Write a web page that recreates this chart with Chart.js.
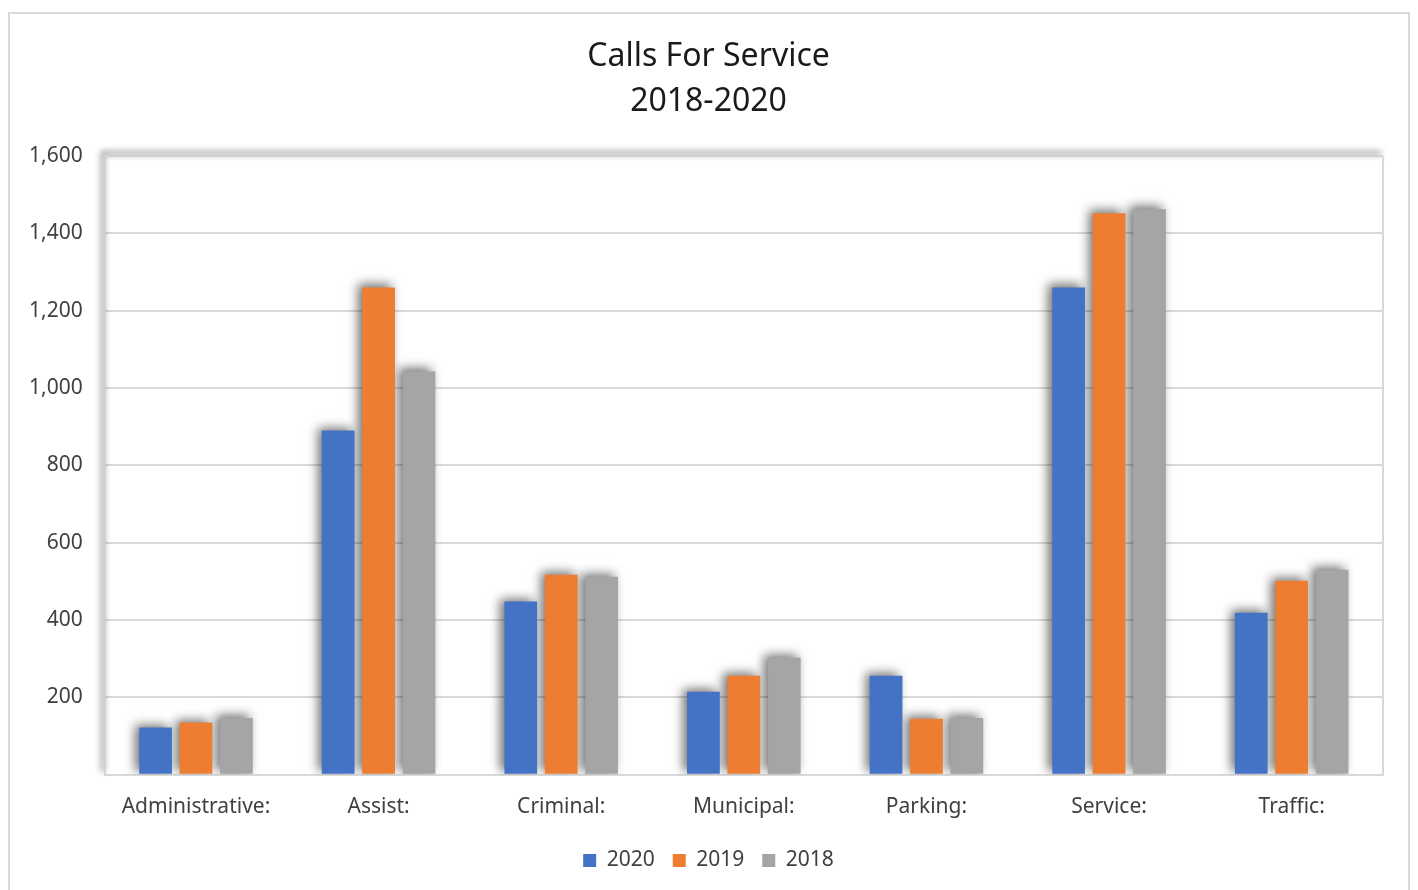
<!DOCTYPE html>
<html>
<head>
<meta charset="utf-8">
<script src="https://cdn.jsdelivr.net/npm/chart.js@4"></script>
<style>
  html, body { margin: 0; padding: 0; background: #fff; }
  #frame { position: absolute; left: 8px; top: 12px; width: 1402px; height: 880px; border: 2px solid #d9d9d9; box-sizing: border-box; }
  #wrap { position: absolute; left: 0; top: 0; width: 1418px; height: 890px; }
</style>
</head>
<body>
<div id="frame"></div>
<div id="wrap"><canvas id="chart"></canvas></div>
<script>
const categories = ['Administrative:', 'Assist:', 'Criminal:', 'Municipal:', 'Parking:', 'Service:', 'Traffic:'];
const values2020 = [122, 890, 448, 215, 256, 1260, 419];
const values2019 = [135, 1260, 517, 256, 145, 1452, 502];
const values2018 = [147, 1043, 512, 303, 147, 1462, 530];
const yTicks = [0, 200, 400, 600, 800, 1000, 1200, 1400, 1600];

// plot area edges with soft shadow, like the spreadsheet chart
const plotShadow = {
    id: 'plotShadow',
    beforeDatasetsDraw(chart) {
        const { ctx, chartArea: a } = chart;
        ctx.save();
        ctx.shadowColor = 'rgba(0,0,0,0.75)';
        ctx.shadowBlur = 6;
        ctx.shadowOffsetX = -2;
        ctx.shadowOffsetY = -3;
        ctx.strokeStyle = '#d0d0d0';
        ctx.lineWidth = 2;
        ctx.beginPath();
        ctx.moveTo(a.left, a.bottom);
        ctx.lineTo(a.left, a.top);
        ctx.lineTo(a.right, a.top);
        ctx.stroke();
        ctx.restore();
        ctx.save();
        ctx.strokeStyle = '#d9d9d9';
        ctx.lineWidth = 2;
        ctx.beginPath();
        ctx.moveTo(a.right, a.top);
        ctx.lineTo(a.right, a.bottom);
        ctx.stroke();
        ctx.restore();
    }
};

const barShadow = {
    id: 'barShadow',
    beforeDatasetsDraw(chart) {
        const ctx = chart.ctx;
        ctx.save();
        ctx.shadowColor = 'rgba(0,0,0,0.55)';
        ctx.shadowBlur = 10;
        ctx.shadowOffsetX = -4;
        ctx.shadowOffsetY = -3;
    },
    afterDatasetsDraw(chart) {
        chart.ctx.restore();
    }
};

const _data = {
    labels: categories,
    datasets: [
        { label: '2020', data: values2020, backgroundColor: '#4472C4' },
        { label: '2019', data: values2019, backgroundColor: '#ED7D31' },
        { label: '2018', data: values2018, backgroundColor: '#A5A5A5' }
    ]
};

const _config = {
    type: 'bar',
    data: _data,
    options: {
        responsive: true,
        maintainAspectRatio: false,
        animation: false,
        layout: { padding: { left: 7, right: 8, top: 12, bottom: 9 } },
        datasets: {
            bar: { categoryPercentage: 0.664, barPercentage: 0.81 }
        },
        scales: {
            x: {
                grid: { display: false },
                border: { color: '#d9d9d9', width: 2 },
                ticks: { color: '#404040', font: { family: 'Noto Sans', size: 21 }, padding: 12 }
            },
            y: {
                min: 0,
                max: 1600,
                afterBuildTicks(scale) {
                    scale.ticks = yTicks.map(v => ({ value: v }));
                },
                grid: { color: '#d9d9d9', lineWidth: 2, drawTicks: false },
                border: { display: false },
                ticks: {
                    color: '#404040',
                    font: { family: 'Noto Sans', size: 21 },
                    padding: 22,
                    callback: v => v === 0 ? '' : v.toLocaleString('en-US')
                }
            },
            // empty right-hand spacer so title and legend centre on the frame
            spacer: {
                type: 'linear',
                position: 'right',
                grid: { display: false, drawTicks: false },
                border: { display: false },
                ticks: { display: false },
                afterFit(scale) { scale.width = 27; }
            }
        },
        plugins: {
            title: {
                display: true,
                text: ['Calls For Service', '2018-2020'],
                color: '#1a1a1a',
                font: { family: 'Noto Sans', size: 32, weight: 'normal', lineHeight: 1.406 },
                padding: { top: 22, bottom: 32 }
            },
            legend: {
                position: 'bottom',
                labels: {
                    color: '#404040',
                    font: { family: 'Noto Sans', size: 21 },
                    boxWidth: 13,
                    boxHeight: 13,
                    padding: 18
                }
            },
            tooltip: { enabled: false }
        }
    },
    plugins: [plotShadow, barShadow]
};

new Chart(document.getElementById('chart'), _config);
</script>
</body>
</html>
